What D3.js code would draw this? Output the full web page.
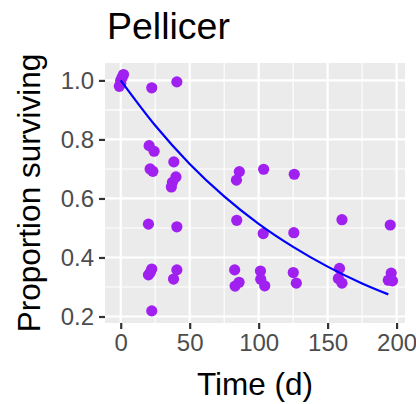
<!DOCTYPE html>
<html><head><meta charset="utf-8">
<script src="https://cdn.jsdelivr.net/npm/d3@7"></script>
<style>body{margin:0;background:#fff}svg{display:block}text{font-family:"Liberation Sans",Arial,sans-serif}</style>
</head><body>
<svg id="c" width="416" height="404"></svg>
<script>
// Observed points
const times = [-1,0,1,2,0, 22.5,40.7, 20.6,24.2,21.3,23.3, 38.5,40,37.5,36.7,
  86,83.9,103.6,125.8,
  20.1,40.7,22.5,20.1,21.5,40.7,38.3,22.5,
  84.1,103.3,125.5,82.6,85.8,82.9,101.3,101.5,104.4,125.1,127.3,
  160.4,195.4,158.6,157.8,160.4,196.1,194,197];
const surviving = [0.98,1.0,1.01,1.02,0.99, 0.975,0.995, 0.779,0.76,0.70,0.692, 0.724,0.673,0.655,0.639,
  0.691,0.662,0.699,0.682,
  0.513,0.504,0.361,0.341,0.35,0.358,0.327,0.219,
  0.526,0.481,0.484,0.358,0.316,0.303,0.354,0.326,0.304,0.349,0.313,
  0.528,0.510,0.363,0.329,0.313,0.347,0.323,0.321];
// Fitted curve
const fitTimes = [0,25,50,75,100,125,150,175,194];
const fitValues = [1.0,0.847,0.717,0.607,0.514,0.436,0.369,0.312,0.275];
const xTicks = [0,50,100,150,200];
const xMinor = [25,75,125,175];
const yTicks = [0.2,0.4,0.6,0.8,1.0];
const yMinor = [0.3,0.5,0.7,0.9];

const svg = d3.select("#c");
const L=105, R=405, T=63, B=323;
const x = d3.scaleLinear().domain([-11.4,206.1]).range([L,R]);
const y = d3.scaleLinear().domain([0.178,1.059]).range([B,T]);

svg.append("rect").attr("x",L).attr("y",T).attr("width",R-L).attr("height",B-T).attr("fill","#EBEBEB");
const g = svg.append("g");
g.selectAll(".xm").data(xMinor).join("line").attr("x1",d=>x(d)).attr("x2",d=>x(d)).attr("y1",T).attr("y2",B).attr("stroke","#fff").attr("stroke-width",1.1);
g.selectAll(".ym").data(yMinor).join("line").attr("y1",d=>y(d)).attr("y2",d=>y(d)).attr("x1",L).attr("x2",R).attr("stroke","#fff").attr("stroke-width",1.1);
g.selectAll(".xM").data(xTicks).join("line").attr("x1",d=>x(d)).attr("x2",d=>x(d)).attr("y1",T).attr("y2",B).attr("stroke","#fff").attr("stroke-width",2.2);
g.selectAll(".yM").data(yTicks).join("line").attr("y1",d=>y(d)).attr("y2",d=>y(d)).attr("x1",L).attr("x2",R).attr("stroke","#fff").attr("stroke-width",2.2);

// points
svg.append("g").selectAll("circle").data(times.map((t,i)=>[t,surviving[i]])).join("circle")
  .attr("cx",d=>x(d[0])).attr("cy",d=>y(d[1])).attr("r",5.6).attr("fill","#A020F0");
// curve
svg.append("path").datum(fitTimes.map((t,i)=>[t,fitValues[i]]))
  .attr("d",d3.line().x(d=>x(d[0])).y(d=>y(d[1])).curve(d3.curveMonotoneX))
  .attr("fill","none").attr("stroke","#0000FF").attr("stroke-width",2.2);

// axes
const xa = svg.append("g").attr("transform",`translate(0,${B})`).call(d3.axisBottom(x).tickValues(xTicks).tickSize(6).tickPadding(5).tickFormat(d3.format("d")));
const ya = svg.append("g").attr("transform",`translate(${L},0)`).call(d3.axisLeft(y).tickValues(yTicks).tickSize(6).tickPadding(5).tickFormat(d3.format(".1f")));
[xa,ya].forEach(a=>{
  a.select(".domain").remove();
  a.selectAll(".tick line").attr("stroke","#333333").attr("stroke-width",2.2);
  a.selectAll(".tick text").attr("fill","#4D4D4D").attr("font-size",24).attr("font-family","Liberation Sans, Arial, sans-serif");
});

svg.append("text").attr("x",107).attr("y",39).attr("font-size",37.5).attr("fill","#000").text("Pellicer");
svg.append("text").attr("x",(L+R)/2+0).attr("y",395).attr("text-anchor","middle").attr("font-size",31.5).attr("fill","#000").text("Time (d)");
svg.append("text").attr("transform",`translate(40,${(T+B)/2}) rotate(-90)`).attr("text-anchor","middle").attr("font-size",31.5).attr("fill","#000").text("Proportion surviving");
</script>
</body></html>
